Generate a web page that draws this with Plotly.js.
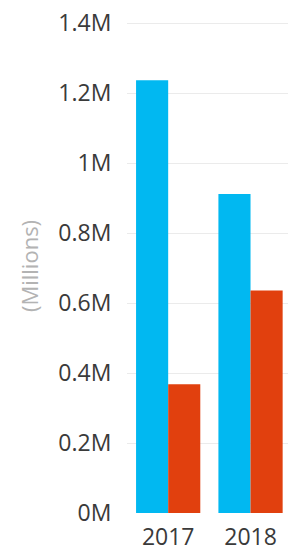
<!DOCTYPE html>
<html>
<head>
<meta charset="utf-8">
<script src="https://cdn.plot.ly/plotly-3.0.1.min.js"></script>
<style>html,body{margin:0;padding:0;background:#fff;overflow:hidden;}#chart{width:288px;height:554px;}</style>
</head>
<body>
<div id="chart"></div>
<script>
const years = ['2017', '2018'];
const seriesA = [1237000, 912000];
const seriesB = [368000, 636000];
const tickVals = [0, 200000, 400000, 600000, 800000, 1000000, 1200000, 1400000];
const tickText = ['0M', '0.2M', '0.4M', '0.6M', '0.8M', '1M', '1.2M', '1.4M'];

const font = "'Open Sans', 'Noto Sans', sans-serif";
const data = [
  {type: 'bar', x: years, y: seriesA, marker: {color: '#01B8F1'}, hoverinfo: 'none'},
  {type: 'bar', x: years, y: seriesB, marker: {color: '#E1400E'}, hoverinfo: 'none'}
];
const layout = {
  width: 288, height: 554,
  margin: {l: 127, r: 0, t: 19, b: 41, pad: 0},
  paper_bgcolor: '#fff', plot_bgcolor: '#fff',
  showlegend: false,
  barmode: 'group', bargap: 0.22, bargroupgap: 0,
  font: {family: font, color: '#3a3a3a', size: 23},
  xaxis: {
    type: 'category', range: [-0.5, 1.455], showgrid: false, zeroline: false, showline: false,
    ticks: 'outside', ticklen: 3, tickcolor: 'rgba(0,0,0,0)',
    tickfont: {size: 23, color: '#3a3a3a', family: font}
  },
  yaxis: {
    range: [0, 1412000], tickvals: tickVals, ticktext: tickText,
    showgrid: true, gridcolor: '#ebebeb', gridwidth: 1, zeroline: false, showline: false,
    ticks: 'outside', ticklen: 10, tickcolor: 'rgba(0,0,0,0)',
    tickfont: {size: 23, color: '#3a3a3a', family: font},
    title: {text: '(Millions)', font: {size: 22, color: '#b3b3b3', family: font}, standoff: 13}
  }
};
Plotly.newPlot('chart', data, layout, {displayModeBar: false, staticPlot: true});
</script>
</body>
</html>
